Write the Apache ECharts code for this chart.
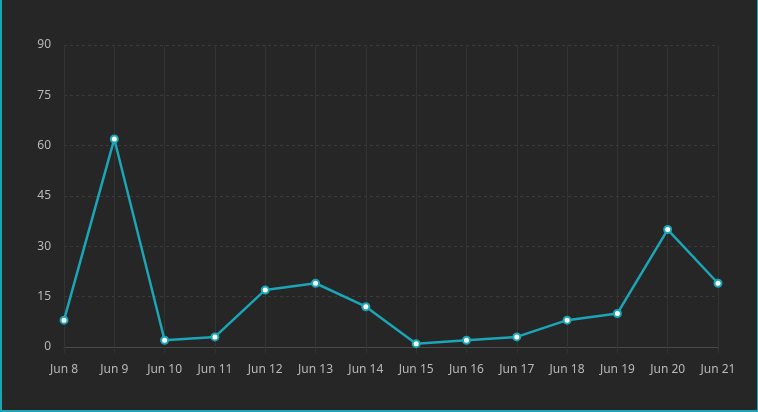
<!DOCTYPE html>
<html>
<head>
<meta charset="utf-8">
<script src="https://cdn.jsdelivr.net/npm/echarts@6/dist/echarts.min.js"></script>
<style>
html,body{margin:0;padding:0;background:#262626;}
#wrap{position:absolute;left:0;top:0;width:758px;height:412px;box-sizing:border-box;border-left:2px solid #1aa6b7;border-right:1px solid #1aa6b7;border-bottom:2px solid #1aa6b7;background:#262626;}
#chart{position:absolute;left:0;top:0;width:758px;height:412px;}
</style>
</head>
<body>
<div id="wrap"></div>
<div id="chart"></div>
<script>
var categories = ['Jun 8','Jun 9','Jun 10','Jun 11','Jun 12','Jun 13','Jun 14','Jun 15','Jun 16','Jun 17','Jun 18','Jun 19','Jun 20','Jun 21'];
var values = [8, 62, 2, 3, 17, 19, 12, 1, 2, 3, 8, 10, 35, 19];
var yTicks = {min: 0, max: 90, interval: 15};

var chart = echarts.init(document.getElementById('chart'), null, {renderer: 'canvas'});
chart.setOption({
  backgroundColor: 'transparent',
  animation: false,
  grid: {left: 64, right: 40, top: 45, bottom: 65, containLabel: false},
  xAxis: {
    type: 'category',
    data: categories,
    boundaryGap: false,
    axisLine: {show: true, lineStyle: {color: '#4a4a4a', width: 1}},
    axisTick: {show: true, length: 6, lineStyle: {color: '#333333'}},
    axisLabel: {color: '#b8b8b8', fontSize: 12, margin: 17, fontFamily: 'Noto Sans'},
    splitLine: {show: true, lineStyle: {color: '#333333', width: 1}}
  },
  yAxis: {
    type: 'value',
    min: yTicks.min, max: yTicks.max, interval: yTicks.interval,
    axisLine: {show: false},
    axisTick: {show: false},
    axisLabel: {color: '#b8b8b8', fontSize: 12, margin: 13, fontFamily: 'Noto Sans'},
    splitLine: {show: true, lineStyle: {color: '#3c3c3c', type: [3, 3], width: 1}}
  },
  series: [{
    type: 'line',
    data: values,
    symbol: 'circle',
    symbolSize: 7,
    lineStyle: {color: '#1aa6b7', width: 2.5},
    itemStyle: {color: '#ffffff', borderColor: '#1aa6b7', borderWidth: 2},
    z: 3
  }]
});
</script>
</body>
</html>
